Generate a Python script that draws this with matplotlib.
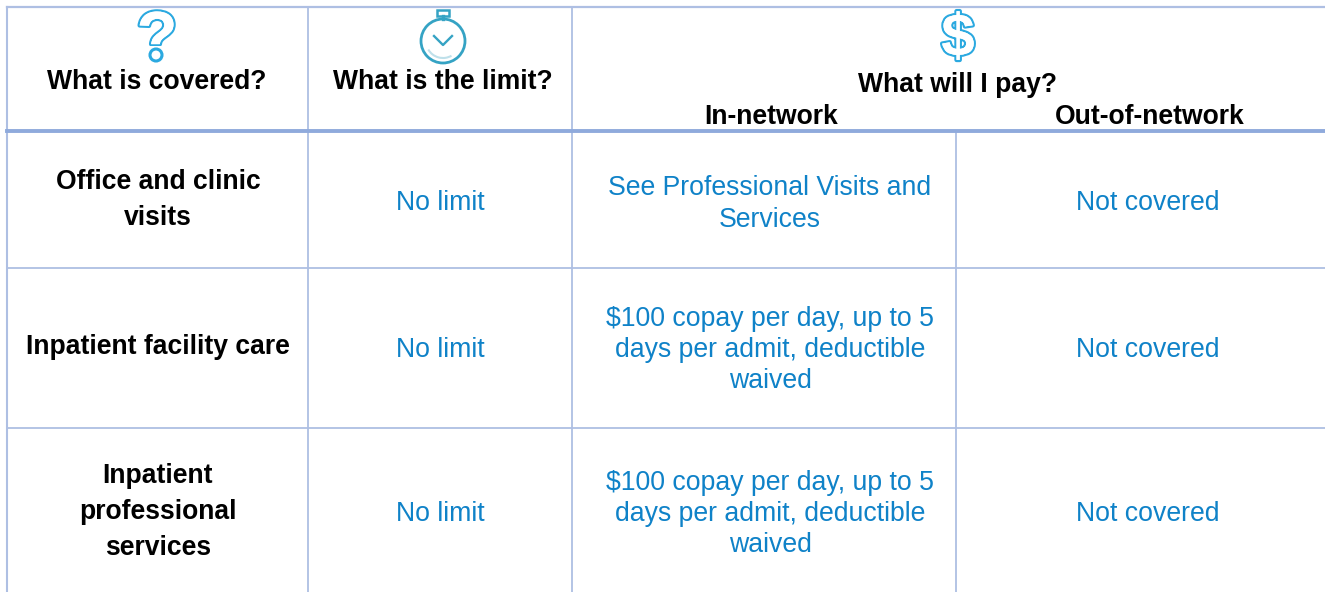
import matplotlib
matplotlib.use('Agg')
import matplotlib.pyplot as plt
from matplotlib.patches import Arc, Circle, Rectangle
import matplotlib.patheffects as pe

plt.rcParams['font.family'] = ['Liberation Sans', 'DejaVu Sans']

W, H = 1325, 592
BLUE = '#0f82c8'
LINE = '#aebfe3'
THICK = '#8faadc'
ICON = '#2ba9e0'

# table contents
row_names = ['Office and clinic\nvisits', 'Inpatient facility care', 'Inpatient\nprofessional\nservices']
limits = ['No limit', 'No limit', 'No limit']
in_network = ['See Professional Visits and\nServices',
              '$100 copay per day, up to 5\ndays per admit, deductible\nwaived',
              '$100 copay per day, up to 5\ndays per admit, deductible\nwaived']
out_network = ['Not covered', 'Not covered', 'Not covered']
row_y = [203, 350, 514]
name_y = [200, 347, 512]
in_y = [204, 350, 514]

fig = plt.figure(figsize=(W / 100, H / 100), dpi=100)
ax = fig.add_axes([0, 0, 1, 1])
ax.set_xlim(0, W)
ax.set_ylim(H, 0)
ax.axis('off')

# grid lines
ax.plot([7, W], [7, 7], color=LINE, lw=1.6)
ax.plot([7, W], [268, 268], color=LINE, lw=1.3)
ax.plot([7, W], [428, 428], color=LINE, lw=1.3)
ax.plot([7, 7], [7, H], color=LINE, lw=1.5)
ax.plot([308, 308], [7, H], color=LINE, lw=1.3)
ax.plot([572, 572], [7, H], color=LINE, lw=1.3)
ax.plot([956, 956], [131, H], color=LINE, lw=1.3)
ax.plot([7, W], [131, 131], color=THICK, lw=2.8, zorder=3)

# header
hd = dict(ha='center', va='center', fontsize=19.1, fontweight='bold', color='#000000')
ax.text(157, 82, 'What is covered?', **hd)
ax.text(443, 82, 'What is the limit?', **hd)
ax.text(958, 85, 'What will I pay?', **hd)
ax.text(771, 117, 'In-network', **hd)
ax.text(1150, 117, 'Out-of-network', **hd)

# icons
outline = [pe.withStroke(linewidth=3.2, foreground=ICON), pe.Normal()]
ax.text(157, 41, '?', ha='center', va='center', fontsize=48, color='white',
        fontweight='bold', path_effects=outline, zorder=4)
# round dot instead of the square one of the font
ax.add_patch(Rectangle((145, 46), 24, 17, fc='white', ec='none', zorder=5))
ax.add_patch(Circle((156, 55), 6, fc='white', ec=ICON, lw=2.2, zorder=6))
ax.text(958, 40, '$', ha='center', va='center', fontsize=43, color='white',
        fontweight='bold', path_effects=outline)
clock = '#35a3c4'
ax.add_patch(Circle((443, 41), 22, fc='white', ec=clock, lw=2.0))
ax.add_patch(Rectangle((437, 10), 12, 6, fc='white', ec=clock, lw=1.8))
ax.plot([443, 443], [16, 19], color=clock, lw=2.4)
ax.plot([434, 443, 452], [36, 45, 36], color=clock, lw=1.7)
ax.add_patch(Arc((443, 41), 34, 34, theta1=60, theta2=150, color='#bfe0ea', lw=1.5))

# body
for name, lim, inn, out, y, ny, iy in zip(row_names, limits, in_network, out_network,
                                          row_y, name_y, in_y):
    ax.text(158, ny, name, ha='center', va='center', fontsize=19.1, fontweight='bold',
            color='black', linespacing=1.5)
    ax.text(440, y, lim, ha='center', va='center', fontsize=19.2, color=BLUE)
    ax.text(770, iy, inn, ha='center', va='center', fontsize=19.2, color=BLUE, linespacing=1.26)
    ax.text(1148, y, out, ha='center', va='center', fontsize=19.2, color=BLUE)

fig.savefig('out.png', dpi=100, facecolor='white')
